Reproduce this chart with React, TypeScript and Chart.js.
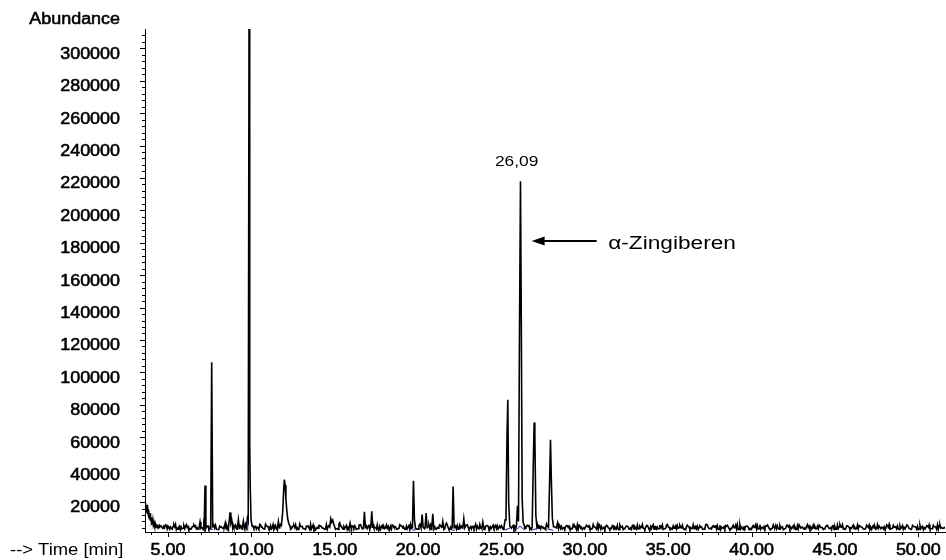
import React, { useEffect, useRef } from "react";
import { Chart, registerables } from "chart.js";

Chart.register(...registerables);

// ---------- axis ranges & ticks ----------
const X_MIN = 3.62;
const X_MAX = 51.6;
const Y_MIN = 1500;
const Y_MAX = 311900;

const xMajorTicks = [5, 10, 15, 20, 25, 30, 35, 40, 45, 50];
const xTickLabels = ["5.00", "10.00", "15.00", "20.00", "25.00", "30.00", "35.00", "40.00", "45.00", "50.00"];
const xMinorStep = 1;

const yMajorTicks = [20000, 40000, 60000, 80000, 100000, 120000, 140000, 160000, 180000, 200000, 220000, 240000, 260000, 280000, 300000];
const yTickLabels = ["20000", "40000", "60000", "80000", "100000", "120000", "140000", "160000", "180000", "200000", "220000", "240000", "260000", "280000", "300000"];
const yMinorStep = 4000;

const xAxisTitle = "--> Time [min]";
const yAxisTitle = "Abundance";

// ---------- annotation ----------
const annotationTime = 26.09;
const annotationLabel = "26,09";
const annotationLabelLevel = 230000;
const compoundName = "α-Zingiberen";
const compoundArrowLevel = 181000;
const compoundTextLevel = 179500;

// ---------- chromatogram data ----------
const solventTimes = [3.62, 3.64, 3.65, 3.66, 3.68, 3.69, 3.71, 3.72, 3.74, 3.75, 3.77, 3.78, 3.8, 3.81, 3.83, 3.85, 3.87, 3.88, 3.9, 3.92, 3.94, 3.96, 3.98, 4.0, 4.03, 4.05, 4.08, 4.1, 4.13, 4.16, 4.19, 4.22, 4.26, 4.3, 4.34, 4.38, 4.42, 4.46, 4.5, 4.54];
const solventAbundance = [15000, 18800, 14500, 19400, 15200, 16500, 13800, 17600, 14000, 15800, 13500, 18300, 13000, 14900, 11800, 15500, 11000, 12600, 9800, 13000, 9000, 10400, 8200, 10500, 7400, 8300, 6500, 8500, 5800, 6600, 5200, 7000, 4800, 5400, 4300, 6000, 3900, 4300, 5600, 5200];

// baseline noise, four interleaved sample sets, each every 0.2 min
const baselineStep = 0.2;
const baselineStartA = 4.6;
const baselineAbundanceA = [
  5200, 4400, 5100, 3900, 4700, 3300, 4500, 3600, 4900, 3400,
  4800, 3200, 4400, 3700, 5200, 3500, 4100, 3000, 4600, 3800,
  5000, 3300, 4700, 3600, 4300, 3100, 5300, 3500, 4800, 3900,
  4500, 3200, 4900, 3400, 4200, 3700, 5100, 3300, 4600, 3600,
  4400, 3000, 4800, 3500, 5200, 3300, 4300, 3800, 4700, 3200,
  4900, 3600, 4400, 3100, 5000, 3700, 4200, 3400, 5300, 3500,
  4600, 3300, 4800, 3900, 4300, 3000, 4700, 3600, 5100, 3400,
  4400, 3700, 4900, 3200, 4500, 3800, 5000, 3300, 4200, 3600,
  4800, 3100, 4600, 3900, 5200, 3400, 4300, 3500, 4700, 3200,
  5000, 3600, 4500, 3300, 4900, 3800, 4400, 3000, 5100, 3700,
  4700, 3400, 5300, 3600, 4600, 3900, 4800, 3200, 4400, 3500,
  4900, 3300, 4500, 3800, 5000, 3600, 4700, 3100, 4600, 3400,
  4800, 3500, 4300, 3700, 5200, 3200, 4400, 3900, 4600, 3300,
  4500, 3400, 4900, 3100, 4200, 3600, 4700, 3300, 4400, 3800,
  4600, 3200, 4800, 3500, 4300, 3000, 4500, 3700, 4900, 3400,
  4200, 3600, 4700, 3300, 4500, 3900, 4100, 3200, 4800, 3500,
  4400, 3100, 4600, 3700, 4300, 3400, 5000, 3300, 4500, 3600,
  4700, 3500, 4200, 3000, 4600, 3800, 4400, 3200, 4900, 3400,
  4300, 3700, 4800, 3300, 4100, 3600, 4500, 3100, 4700, 3500,
  4600, 3400, 4400, 3900, 4200, 3200, 4800, 3500, 4300, 3700,
  4500, 3000, 4700, 3600, 4400, 3300, 4900, 3800, 4200, 3400,
  4600, 3500, 4300, 3100, 4800, 3700, 4500, 3200, 4400, 3600,
  4700, 3300, 4200, 3800, 4600, 3400, 4900, 3000, 4500, 3700,
  4400, 3500, 4800, 3200, 4300, 3600,
];
const baselineStartB = 4.7;
const baselineAbundanceB = [
  3700, 5600, 3200, 4900, 2900, 5300, 3800, 6100, 3100, 5000,
  3500, 5800, 2900, 5400, 3600, 6300, 3200, 5100, 3900, 5700,
  3000, 6000, 3400, 5500, 2800, 5900, 3700, 5200, 3300, 6200,
  3600, 5400, 3100, 6100, 3500, 5000, 2900, 5700, 3800, 5300,
  3200, 6400, 3600, 5100, 3000, 5800, 3400, 5500, 3900, 6000,
  2900, 5300, 3500, 7200, 3300, 5600, 3800, 5100, 3100, 5900,
  3600, 5400, 3000, 6200, 3400, 5000, 3700, 5800, 2900, 5500,
  3300, 6000, 3800, 5200, 3100, 5700, 3500, 6300, 3000, 5400,
  3700, 5100, 3200, 5900, 3600, 7000, 3000, 5300, 3400, 5800,
  3100, 5600, 3900, 5000, 3300, 6100, 3500, 5400, 2900, 5700,
  3600, 5200, 3100, 6000, 3400, 5500, 3800, 5900, 3200, 5300,
  3000, 5800, 3500, 5100, 3700, 6400, 3300, 5600, 3100, 5000,
  3800, 5500, 3200, 5900, 2900, 5300, 3600, 5700, 3400, 6100,
  3300, 5000, 3700, 5600, 3100, 5400, 3500, 5900, 3000, 5200,
  3600, 5700, 3200, 5100, 3800, 5500, 2900, 6000, 3400, 5300,
  3100, 5800, 3500, 5200, 3300, 5600, 3700, 5000, 3000, 5900,
  3500, 5300, 3100, 6200, 3600, 5400, 3200, 5700, 3800, 5100,
  3000, 5600, 3400, 5900, 3100, 5200, 3700, 5500, 3300, 6000,
  3600, 5100, 3200, 5800, 3500, 5400, 2900, 5600, 3400, 5300,
  3100, 5900, 3700, 5200, 3300, 5700, 3500, 5000, 3000, 5500,
  3800, 5400, 3200, 6100, 3400, 5300, 3100, 5800, 3600, 5100,
  3300, 5700, 3000, 5500, 3700, 5200, 3400, 5900, 3200, 5600,
  3500, 5300, 3100, 5800, 3600, 5000, 3300, 5700, 2900, 5400,
  3400, 5600, 3200, 5900, 3700,
];
const baselineStartC = 4.65;
const baselineAbundanceC = [
  4300, 5900, 4100, 3300, 6200, 4600, 3500, 5100, 2800, 4700,
  5400, 3600, 4200, 6000, 3100, 4900, 5600, 3400, 4000, 5300,
  3800, 2900, 5700, 4400, 3200, 6100, 4800, 3700, 5000, 3000,
  4500, 6300, 3300, 4100, 5500, 2900, 4700, 5800, 3600, 4300,
  6000, 3500, 4900, 3100, 5200, 4400, 2800, 5600, 4000, 3400,
  5100, 4600, 3200, 6400, 3900, 4800, 3000, 5300, 4200, 5700,
  3400, 4900, 6100, 3600, 4300, 2900, 5500, 4100, 3300, 5900,
  4700, 3800, 5000, 3100, 6200, 4400, 3500, 5400, 4000, 2800,
  5800, 4500, 3300, 5100, 3900, 6000, 3000, 4600, 5300, 3700,
  4200, 5600, 3200, 4800, 6300, 3500, 4100, 5000, 2900, 4700,
  5500, 3400, 4300, 6100, 3800, 4900, 3100, 5200, 4500, 3600,
  5900, 4000, 3300, 5400, 4600, 2900, 5700, 3900, 4400, 6000,
  3200, 4800, 5100, 3500, 4200, 5800, 3000, 4700, 5300, 3700,
  4100, 6200, 3400, 4900, 3800, 5500, 4300, 2900, 5000, 4600,
  3300, 5600, 4000, 3600, 6100, 4400, 3100, 5200, 4800, 3500,
  5900, 3900, 4500, 3200, 5400, 4100, 5700, 3000, 4700, 3800,
  5100, 4300, 3400, 6000, 3700, 4900, 5300, 3100, 4200, 5500,
  3600, 4600, 5800, 3300, 4000, 5000, 2900, 4800, 6100, 3500,
  4400, 5200, 3800, 4100, 5600, 3200, 4700, 3900, 5400, 4300,
  3000, 5900, 4500, 3600, 5100, 4000, 3400, 5700, 4200, 4900,
  3700, 5300, 3100, 4600, 6000, 3500, 4400, 5000, 3300, 5500,
  4100, 3800, 5800, 4700, 3200, 5200, 4300, 3600, 6200, 3900,
  4800, 3000, 5400, 4200, 3700, 5600, 4500, 3300, 5000, 4100,
  5900, 3500, 4600, 5300, 3800, 4400,
];
const baselineStartD = 4.75;
const baselineAbundanceD = [
  5000, 3400, 4600, 6000, 3900, 2900, 5300, 4300, 3600, 5800,
  4100, 3200, 5500, 4800, 3700, 6200, 3000, 4500, 5100, 3500,
  6000, 4200, 3300, 5600, 4700, 3100, 5200, 3900, 4400, 5900,
  3600, 4900, 5400, 3000, 4300, 6100, 3800, 4600, 3200, 5700,
  4100, 5000, 3500, 4800, 6300, 3300, 4400, 5200, 3900, 3100,
  5800, 4300, 3600, 5100, 4700, 3000, 5500, 4000, 3400, 6000,
  4500, 3700, 5300, 4100, 5900, 3200, 4800, 3800, 5000, 4400,
  3100, 5600, 4200, 3500, 6100, 4600, 3300, 5200, 3900, 4700,
  5700, 3400, 4300, 5000, 3000, 5800, 4500, 3700, 5400, 4100,
  3300, 6000, 4800, 3600, 5100, 4000, 3100, 5500, 4600, 3800,
  5300, 4200, 3500, 5900, 4400, 3000, 5000, 4700, 3700, 5600,
  3900, 4500, 6200, 3400, 4100, 5200, 3200, 4900, 5700, 3600,
  4300, 5400, 3100, 4600, 5900, 3800, 4200, 5100, 3500, 4800,
  6000, 3300, 4400, 5300, 3900, 3000, 5600, 4700, 3600, 5000,
  4100, 3400, 5800, 4300, 3700, 5500, 4900, 3200, 4600, 5200,
  3500, 6100, 4000, 3800, 5400, 4400, 3100, 5700, 4200, 3600,
  5000, 4700, 3300, 5900, 3900, 4500, 5300, 3000, 4800, 5600,
  3700, 4100, 6000, 3400, 4600, 5100, 3800, 4300, 5500, 3200,
  4900, 5800, 3500, 4200, 5200, 3900, 3100, 5700, 4500, 3600,
  5400, 4000, 3300, 6100, 4700, 3800, 5000, 4400, 3400, 5600,
  4200, 3000, 5900, 4600, 3700, 5300, 4100, 3500, 5800, 4800,
  3200, 5100, 4300, 3900, 6000, 3600, 4700, 5500, 3300, 4500,
  5200, 3800, 4400, 5700, 3100, 4900, 5000, 3600, 4200, 5400,
  3500, 4800, 5900, 3900, 4300,
];

const peakTimes = [
  [6.86, 6.92, 6.97],
  [7.17, 7.22, 7.27],
  [7.56, 7.62, 7.68],
  [8.36, 8.42, 8.48],
  [8.62, 8.68, 8.72, 8.77, 8.82, 8.88],
  [9.16, 9.22, 9.28],
  [9.46, 9.52, 9.58],
  [9.7, 9.76, 9.81, 9.86, 9.9, 9.93, 9.98, 10.05],
  [11.56, 11.62, 11.68],
  [11.8, 11.88, 11.94, 11.98, 12.02, 12.07, 12.12, 12.18, 12.25, 12.32],
  [14.7, 14.76, 14.82, 14.88, 14.94, 15.0],
  [15.86, 15.92, 15.98],
  [16.72, 16.78, 16.84],
  [17.16, 17.22, 17.28],
  [19.66, 19.72, 19.78, 19.84],
  [20.18, 20.24, 20.3],
  [20.42, 20.48, 20.54],
  [20.82, 20.88, 20.94],
  [21.42, 21.48, 21.54],
  [22.04, 22.1, 22.16],
  [22.68, 22.74, 22.8],
  [23.82, 23.88, 23.94],
  [25.15, 25.22, 25.27, 25.33, 25.38, 25.43, 25.5],
  [25.9, 25.96, 26.02, 26.08, 26.14, 26.19, 26.24, 26.3, 26.38],
  [26.84, 26.9, 26.96, 27.0, 27.06, 27.12],
  [27.82, 27.88, 27.94, 27.99, 28.05, 28.12],
  [28.3, 28.36, 28.42],
];
const peakAbundance = [
  [4200, 7700, 4000],
  [4500, 30200, 4100],
  [4300, 106300, 4200],
  [3800, 6600, 3600],
  [4000, 9500, 13600, 7200, 9000, 4300],
  [3900, 9100, 3700],
  [4100, 8000, 3600],
  [4400, 9700, 8000, 320000, 56400, 30000, 9000, 5000],
  [3800, 8000, 4000],
  [5500, 14000, 28000, 33800, 30500, 22000, 15500, 9500, 6500, 5200],
  [4500, 9700, 7500, 8800, 6500, 4600],
  [3900, 7000, 3800],
  [4000, 14000, 4200],
  [4100, 14200, 4000],
  [4300, 33100, 9000, 4200],
  [4000, 12200, 4500],
  [4400, 13200, 4100],
  [4200, 12800, 4000],
  [3900, 8000, 3700],
  [4300, 29600, 4100],
  [4000, 9700, 4200],
  [3800, 7700, 3900],
  [4500, 9000, 11100, 60000, 83100, 20000, 5000],
  [5500, 17700, 8000, 125000, 218000, 128000, 22000, 7500, 5000],
  [4600, 40000, 69100, 62000, 12000, 5000],
  [4500, 30000, 58400, 33700, 10000, 4800],
  [4000, 7000, 3800],
];

// integration baselines (blue)
const integrationTimes = [
  [7.55, 7.7],
  [9.78, 9.78],
  [19.65, 19.85],
  [22.02, 22.2],
  [25.2, 25.5],
  [25.95, 26.1, 26.35],
  [26.8, 27.1],
  [27.75, 28.1],
];
const integrationAbundance = [
  [3000, 3200],
  [2200, 9000],
  [2600, 2800],
  [2700, 2600],
  [2800, 3800],
  [3200, 5200, 3000],
  [2600, 3600],
  [3400, 2500],
];

// ---------- build series ----------
function buildChromatogram() {
  const pts: { x: number; y: number }[] = [];
  solventTimes.forEach((t, i) => pts.push({ x: t, y: solventAbundance[i] }));
  const windows = peakTimes.map((g) => [g[0], g[g.length - 1]]);
  const addBaseline = (start: number, values: number[]) =>
    values.forEach((v, i) => {
      const t = +(start + i * baselineStep).toFixed(3);
      if (windows.some(([a, b]) => t >= a && t <= b)) return;
      pts.push({ x: t, y: v });
    });
  addBaseline(baselineStartA, baselineAbundanceA);
  addBaseline(baselineStartB, baselineAbundanceB);
  addBaseline(baselineStartC, baselineAbundanceC);
  addBaseline(baselineStartD, baselineAbundanceD);
  peakTimes.forEach((g, gi) => g.forEach((t, i) => pts.push({ x: t, y: peakAbundance[gi][i] })));
  pts.sort((a, b) => a.x - b.x);
  return pts;
}

function buildIntegration() {
  const pts: { x: number; y: number | null }[] = [];
  integrationTimes.forEach((g, gi) => {
    g.forEach((t, i) => pts.push({ x: t, y: integrationAbundance[gi][i] }));
    pts.push({ x: g[g.length - 1] + 0.01, y: null });
  });
  return pts;
}

const FONT = '"Liberation Sans", Arial, Helvetica, sans-serif';

function stretchText(
  ctx: CanvasRenderingContext2D,
  text: string,
  x: number,
  y: number,
  align: CanvasTextAlign,
  size: number,
  sx: number,
  heavy: boolean
) {
  ctx.save();
  ctx.translate(x, y);
  ctx.scale(sx, 1);
  ctx.font = `${size}px ${FONT}`;
  ctx.textAlign = align;
  ctx.textBaseline = "middle";
  ctx.fillStyle = "#000";
  ctx.fillText(text, 0, 0);
  if (heavy) {
    ctx.strokeStyle = "#000";
    ctx.lineWidth = 0.55;
    ctx.strokeText(text, 0, 0);
  }
  ctx.restore();
}

const axesPlugin = {
  id: "chromAxes",
  afterDraw(chart: any) {
    const ctx: CanvasRenderingContext2D = chart.ctx;
    const xs = chart.scales.x;
    const ys = chart.scales.y;
    const area = chart.chartArea;
    ctx.save();
    ctx.strokeStyle = "#000";
    ctx.lineWidth = 1;
    for (let v = yMinorStep; v <= Y_MAX; v += yMinorStep) {
      const py = Math.round(ys.getPixelForValue(v)) + 0.5;
      const major = yMajorTicks.includes(v);
      ctx.beginPath();
      ctx.moveTo(area.left - (major ? 5 : 3), py);
      ctx.lineTo(area.left, py);
      ctx.stroke();
    }
    for (let t = Math.ceil(X_MIN); t <= X_MAX; t += xMinorStep) {
      const px = Math.round(xs.getPixelForValue(t)) + 0.5;
      const major = xMajorTicks.includes(t);
      ctx.beginPath();
      ctx.moveTo(px, area.bottom);
      ctx.lineTo(px, area.bottom + (major ? 5 : 3));
      ctx.stroke();
    }
    ctx.restore();

    yMajorTicks.forEach((v, i) => {
      const py = ys.getPixelForValue(v);
      stretchText(ctx, yTickLabels[i], area.left - 25, py + 6, "right", 16, 1.12, true);
    });
    xMajorTicks.forEach((t, i) => {
      const px = xs.getPixelForValue(t);
      stretchText(ctx, xTickLabels[i], px, area.bottom + 19, "center", 16, 1.12, true);
    });
    stretchText(ctx, xAxisTitle, 10, area.bottom + 19, "left", 16, 1.15, false);
    stretchText(ctx, yAxisTitle, area.left - 25, 20, "right", 16, 1.12, true);

    const ax = xs.getPixelForValue(annotationTime);
    stretchText(ctx, annotationLabel, ax - 3, ys.getPixelForValue(annotationLabelLevel), "center", 15.5, 1.12, false);
    const ay = ys.getPixelForValue(compoundArrowLevel);
    const tip = ax + 12;
    ctx.save();
    ctx.strokeStyle = "#000";
    ctx.fillStyle = "#000";
    ctx.lineWidth = 2;
    ctx.beginPath();
    ctx.moveTo(tip + 10, ay);
    ctx.lineTo(ax + 77, ay);
    ctx.stroke();
    ctx.beginPath();
    ctx.moveTo(tip, ay);
    ctx.lineTo(tip + 13, ay - 4.5);
    ctx.lineTo(tip + 13, ay + 4.5);
    ctx.closePath();
    ctx.fill();
    ctx.restore();
    stretchText(ctx, compoundName, ax + 88.5, ys.getPixelForValue(compoundTextLevel), "left", 18, 1.26, false);
  },
};

export default function App() {
  const ref = useRef<HTMLCanvasElement | null>(null);
  useEffect(() => {
    if (!ref.current) return;
    const chart = new Chart(ref.current, {
      type: "line",
      data: {
        datasets: [
          {
            label: "integration",
            data: buildIntegration() as any,
            borderColor: "#1a1aa0",
            borderWidth: 1,
            pointRadius: 0,
            spanGaps: false,
            tension: 0,
          },
          {
            label: "TIC",
            data: buildChromatogram() as any,
            borderColor: "#000000",
            borderWidth: 1.6,
            pointRadius: 0,
            tension: 0,
          },
        ],
      },
      options: {
        animation: false,
        responsive: false,
        devicePixelRatio: 1,
        parsing: false as any,
        normalized: true,
        layout: { autoPadding: false, padding: { top: 29, right: 1, left: 0, bottom: 0 } },
        plugins: { legend: { display: false }, tooltip: { enabled: false } },
        events: [],
        scales: {
          x: {
            type: "linear",
            min: X_MIN,
            max: X_MAX,
            grid: { display: false },
            border: { display: true, color: "#000", width: 1 },
            ticks: { display: false },
            afterFit: (s: any) => {
              s.height = 28;
            },
          },
          y: {
            type: "linear",
            min: Y_MIN,
            max: Y_MAX,
            grid: { display: false },
            border: { display: true, color: "#000", width: 1 },
            ticks: { display: false },
            afterFit: (s: any) => {
              s.width = 145;
            },
          },
        },
      },
      plugins: [axesPlugin],
    });
    return () => chart.destroy();
  }, []);
  return (
    <div style={{ position: "fixed", left: 0, top: 0, width: 946, height: 560, background: "#fff" }}>
      <canvas ref={ref} width={946} height={560} />
    </div>
  );
}
